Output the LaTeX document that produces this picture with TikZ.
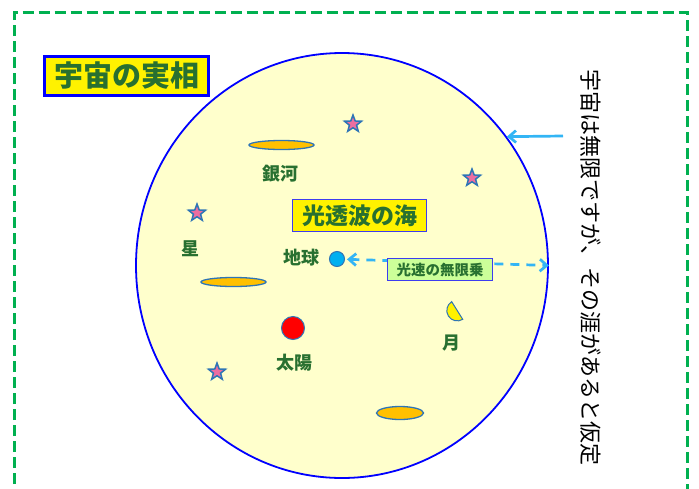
\documentclass[tikz,border=0pt]{standalone}
\usepackage{fontspec}
\newfontfamily\jp{Noto Sans CJK JP}
\usetikzlibrary{shapes.geometric,arrows.meta}
\definecolor{dgreen}{RGB}{0,176,80}
\definecolor{txtgreen}{RGB}{40,112,48}
\definecolor{outl}{RGB}{46,117,182}
\definecolor{skyb}{RGB}{51,181,245}
\definecolor{galfill}{RGB}{255,192,0}
\definecolor{earthc}{RGB}{0,176,240}
\definecolor{pinkc}{RGB}{236,110,160}
\definecolor{univfill}{RGB}{255,255,204}
\definecolor{lgreen}{RGB}{204,255,153}
\definecolor{boxblue}{RGB}{60,60,240}
\begin{document}
\begin{tikzpicture}[x=1pt,y=-1pt, font=\jp,
  lbl/.style={text=txtgreen, font=\jp\bfseries\fontsize{18}{18}\selectfont, inner sep=0},
  starn/.style={star, star points=5, star point ratio=2.4, fill=pinkc, draw=outl, line width=1.5pt, minimum size=18pt, inner sep=0},
  galaxy/.style={ellipse, fill=galfill, draw=outl, line width=1.3pt, inner sep=0},
  ball/.style={circle, draw=outl, line width=1pt, inner sep=0},
  skyarrow/.style={draw=skyb, line width=2.7pt},
  barb/.tip={Straight Barb[length=7pt,width=12pt]}
]
\useasboundingbox (0,0) rectangle (699,488);
\clip (0,0) rectangle (699,488);
% frame
\draw[dgreen, line width=3pt, dash pattern=on 11pt off 5pt] (14,500) -- (14,12.5) -- (687,12.5) -- (687,500);
% universe
\node[ellipse, draw=blue, fill=univfill, line width=1.8pt, minimum width=412pt, minimum height=425pt, inner sep=0] (univ) at (342,265.5) {};
% title
\node[draw=blue, fill=yellow, line width=2.8pt, minimum width=164pt, minimum height=39pt, inner sep=0, text=txtgreen, font=\jp\bfseries\fontsize{29}{29}\selectfont] (title) at (126.5,76) {宇宙の実相};
% galaxies
\node[galaxy, minimum width=65pt, minimum height=9pt] (gal1) at (281.5,145) {};
\node[galaxy, minimum width=65pt, minimum height=9pt] (gal2) at (233.5,282) {};
\node[galaxy, minimum width=47pt, minimum height=13pt] (gal3) at (400,413) {};
% stars
\node[starn] (st1) at (353,124) {};
\node[starn] (st2) at (472,178) {};
\node[starn] (st3) at (197,213) {};
\node[starn] (st4) at (217,372) {};
% bodies
\node[ball, fill=earthc, minimum size=15pt] (earth) at (337,259) {};
\node[ball, fill=red, minimum size=23pt] (sun) at (293,328) {};
\draw[fill=yellow, draw=outl, line width=1pt] (457.2,310.5) ++(58:10.4) arc[start angle=58, end angle=238, radius=10.4] -- cycle;
% labels
\node[lbl] (lgal) at (280.5,174) {銀河};
\node[lbl] (learth) at (301.5,258) {地球};
\node[lbl] (lstar) at (190,249) {星};
\node[lbl] (lsun) at (294,363) {太陽};
\node[lbl] (lmoon) at (451.5,343.5) {月};
% sea box
\node[draw=boxblue, fill=yellow, line width=1pt, minimum width=134pt, minimum height=32pt, inner sep=0, text=txtgreen, font=\jp\bfseries\fontsize{23}{23}\selectfont] (sea) at (359.5,215.5) {光透波の海};
% arrows
\coordinate (a1) at (563,136);
\draw[skyarrow, barb-] (univ.38.3) -- (a1);
\draw[skyarrow, dash pattern=on 9pt off 7pt, barb-barb, shorten <=2pt] (earth) -- (univ.east);
% speed box
\node[draw=boxblue, fill=lgreen, line width=1pt, minimum width=105pt, minimum height=22pt, inner sep=0, text=txtgreen, font=\jp\bfseries\fontsize{14.5}{14.5}\selectfont] (speed) at (440,269.5) {光速の無限乗};
% vertical note
\node[rotate=-90, inner sep=0, font=\jp\fontsize{22}{22}\selectfont] (note) at (591,267.5) {宇宙は無限ですが、その涯があると仮定};
\end{tikzpicture}
\end{document}
